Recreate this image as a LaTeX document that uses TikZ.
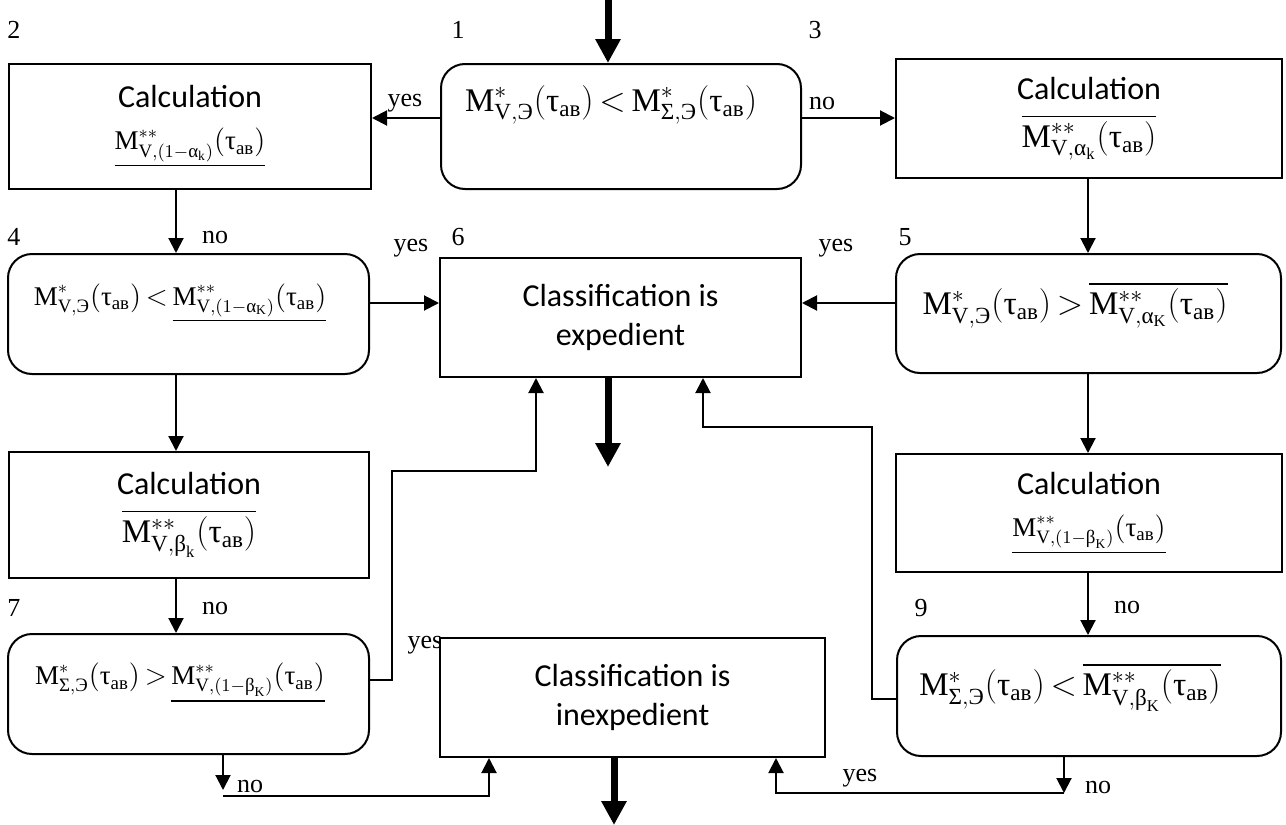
\documentclass[tikz,border=0pt]{standalone}
\usepackage{amsmath}
\usepackage{fontspec}
\setmainfont{Liberation Serif}
\newfontfamily\calfont{Carlito}
\usetikzlibrary{arrows.meta}
\usetikzlibrary{positioning}

\newcommand{\tx}[1]{\text{#1}}
\newcommand{\tav}{\tx{τ}_{\tx{ав}}}
\newcommand{\Mone}[1]{\tx{M}^{*}_{#1,\tx{Э}}(\tav)}
\newcommand{\Mtwo}[1]{\tx{M}^{**}_{\tx{V},#1}(\tav)}
\newcommand{\fbig}{\rmfamily\fontsize{16.5}{20}\selectfont}
\newcommand{\fsmall}{\rmfamily\fontsize{13.5}{16}\selectfont}

\tikzset{
  blk/.style={draw, line width=1pt, fill=white, anchor=north west, inner sep=0pt, align=center,
    font=\calfont\fontsize{16}{19}\selectfont},
  dec/.style={blk, rounded corners=12pt},
  fml/.style={inner sep=0pt},
  lbl/.style={inner sep=0pt, font=\fontsize{13}{15}\selectfont},
  big/.style={line width=3.5pt, -{Triangle[length=12pt,width=12pt]}},
}

\begin{document}
\begin{tikzpicture}[x=0.5pt,y=-0.5pt,line width=1pt,>={Triangle[length=7.5pt,width=7.5pt]}]
\useasboundingbox (0,0) rectangle (1286,825);

% blocks
\node[dec, minimum width=180pt, minimum height=62.5pt] (b1) at (440,63) {};
\node[blk, minimum width=181pt, minimum height=62.5pt] (b2) at (8,63)
  {Calculation\\[2pt] {\fsmall$\underline{\Mtwo{(1-\tx{α}_{\tx{k}})}}$}};
\node[blk, minimum width=193pt, minimum height=59.5pt] (b3) at (895,58)
  {Calculation\\[5pt] {\fbig$\overline{\Mtwo{\tx{α}_{\tx{k}}}}$}};
\node[dec, minimum width=180.5pt, minimum height=60pt] (b4) at (7,253) {};
\node[blk, minimum width=180.5pt, minimum height=59.5pt, font=\calfont\fontsize{16}{19.5}\selectfont] (b6) at (439,257)
  {Classification is\\expedient};
\node[dec, minimum width=192.5pt, minimum height=59.5pt] (b5) at (895,253) {};
\node[blk, minimum width=180pt, minimum height=63pt] (b8) at (8,451)
  {Calculation\\[5pt] {\fbig$\overline{\Mtwo{\tx{β}_{\tx{k}}}}$}};
\node[blk, minimum width=193pt, minimum height=59pt] (b10) at (895,453)
  {Calculation\\[2pt] {\fsmall$\underline{\Mtwo{(1-\tx{β}_{\tx{K}})}}$}};
\node[dec, minimum width=180.5pt, minimum height=60pt] (b7) at (7,633) {};
\node[dec, minimum width=192pt, minimum height=60pt] (b9) at (896,635) {};

% formulas in the decision blocks
\node[fml, font=\fbig] (f1) at (611,105) {$\Mone{\tx{V}}\,{<}\,\Mone{\tx{Σ}}$};
\node[fml, font=\fsmall] (f4) at (180,303) {$\Mone{\tx{V}}\,{<}\,\underline{\Mtwo{(1-\tx{α}_{\tx{K}})}}$};
\node[fml, font=\fbig] (f5) at (1075,305) {$\Mone{\tx{V}}\,{>}\,\overline{\Mtwo{\tx{α}_{\tx{K}}}}$};
\node[fml, font=\fsmall] (f7) at (180,683) {$\Mone{\tx{Σ}}\,{>}\,\underline{\Mtwo{(1-\tx{β}_{\tx{K}})}}$};
\node[fml, font=\fbig] (f9) at (1070,687) {$\Mone{\tx{Σ}}\,{<}\,\overline{\Mtwo{\tx{β}_{\tx{K}}}}$};

% numbers
\node[lbl] (n2) at (14,30) {2};
\node[lbl] (n1) at (458,30) {1};
\node[lbl] (n3) at (815,30) {3};
\node[lbl] (n4) at (14,237) {4};
\node[lbl] (n6) at (458,237) {6};
\node[lbl] (n5) at (905,237) {5};
\node[lbl] (n7) at (14,608) {7};
\node[lbl] (n9) at (921,608) {9};

% helper points
\coordinate (xl) at (176,0);
\coordinate (xr) at (1088,0);
\coordinate (r1) at (0,118);
\coordinate (r2) at (0,303);
\coordinate (in) at (608,0);

\draw[big] (608,0) -- (in |- b1.north);
\draw[->] (b1.west |- r1) -- (b2.east |- r1);
\node[lbl] (y1) at (405,103) {yes};
\draw[->] (b1.east |- r1) -- (b3.west |- r1);
\node[lbl] (m1) at (822,103) {no};

\draw[->] (xl |- b2.south) -- (xl |- b4.north);
\node[lbl] (m2) at (215,237) {no};
\draw[->] (xr |- b3.south) -- (xr |- b5.north);

\draw[->] (b4.east |- r2) -- (b6.west |- r2);
\node[lbl] (y4) at (411,248) {yes};
\draw[->] (b5.west |- r2) -- (b6.east |- r2);
\node[lbl] (y5) at (836,248) {yes};
\draw[big] (in |- b6.south) -- (608,467);

\draw[->] (xl |- b4.south) -- (xl |- b8.north);
\draw[->] (xr |- b5.south) -- (xr |- b10.north);
\draw[->] (xl |- b8.south) -- (xl |- b7.north);
\node[lbl] (m8) at (215,608) {no};
\draw[->] (xr |- b10.south) -- (xr |- b9.north);
\node[lbl] (m10) at (1127,607) {no};

% yes-routes back to block 6
\node[lbl] (y7) at (425,645) {yes};
\draw[->] (b7.east |- 0,680) -| (392,471) -| (b6.south -| 536,0);
\draw[->] (b9.west |- 0,699) -| (872,427) -| (b6.south -| 703,0);
\node[lbl] (y9) at (860,778) {yes};

% no-routes to block of inexpedience
\node[blk, minimum width=192.5pt, minimum height=59.5pt, font=\calfont\fontsize{16}{19.5}\selectfont] (b11) at (439,637)
  {Classification is\\inexpedient};
\draw[->] (b7.south -| 223,0) -- (223,790);
\draw[->] (223,796) -| (b11.south -| 489,0);
\node[lbl] (m7) at (250,786) {no};
\draw[->] (b9.south -| 1064,0) -- (1064,793);
\draw[->] (1064,793) -| (b11.south -| 776,0);
\node[lbl] (m9) at (1098,787) {no};
\draw[big] (b11.south -| 614,0) -- (614,825);
\end{tikzpicture}
\end{document}
